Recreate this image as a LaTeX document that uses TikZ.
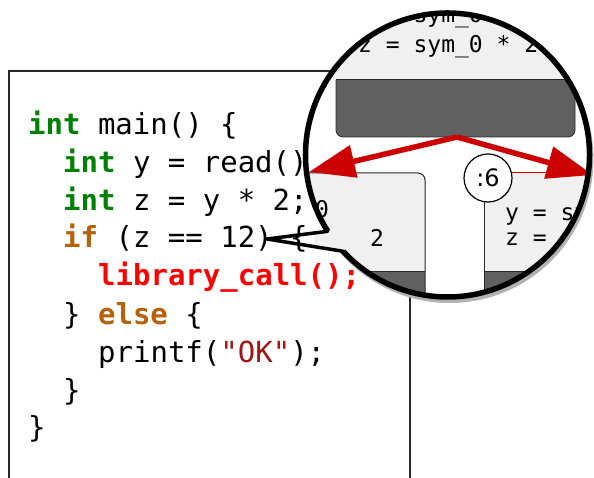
\documentclass[tikz,border=0pt]{standalone}
\usepackage{fontspec}
\newfontfamily\codefont{DejaVu Sans Mono}
\newfontfamily\labelfont{DejaVu Sans}
\usetikzlibrary{arrows.meta,calc}
\definecolor{kwgreen}{RGB}{0,128,0}
\definecolor{kwbrown}{RGB}{181,98,10}
\definecolor{callred}{RGB}{255,0,0}
\definecolor{strred}{RGB}{163,21,21}
\definecolor{boxgrey}{RGB}{240,240,240}
\definecolor{darkband}{RGB}{96,96,96}
\definecolor{arrred}{RGB}{204,0,0}
\definecolor{framecol}{RGB}{40,40,40}
\begin{document}
\begin{tikzpicture}[x=1pt,y=-1pt,
  codeline/.style={anchor=base west, inner sep=0pt, font=\codefont\fontsize{29}{29}\selectfont},
  zoomtext/.style={anchor=base west, inner sep=0pt, font=\codefont\fontsize{23}{23}\selectfont},
  zoomglyph/.style={inner sep=0pt, font=\codefont\fontsize{23}{23}\selectfont},
  bigarrow/.style={draw=arrred, line width=5.5pt, -{Triangle[length=46pt,width=32pt]}},
  thinedge/.style={draw=framecol, line width=1pt},
  lensring/.style={line width=5.5pt, draw=black},
]
\useasboundingbox (0,0) rectangle (594,478);
\fill[white] (0,0) rectangle (594,478);

% code frame
\draw[line width=1.6pt, framecol] (9,480) -- (9,71) -- (410,71) -- (410,480);

% code lines
\node[codeline] (l1) at (28,135) {\textcolor{kwgreen}{\bfseries int} main() \{};
\node[codeline] (l2) at (63,173) {\textcolor{kwgreen}{\bfseries int} y = read();};
\node[codeline] (l3) at (63,211) {\textcolor{kwgreen}{\bfseries int} z = y * 2;};
\node[codeline] (l4) at (63,248) {\textcolor{kwbrown}{\bfseries if} (z == 12) \{};
\node[codeline] (l5) at (98,286) {\textcolor{callred}{\bfseries library\_call();}};
\node[codeline] (l6) at (63,324) {\} \textcolor{kwbrown}{\bfseries else} \{};
\node[codeline] (l7) at (98,362) {printf(\textcolor{strred}{"OK"});};
\node[codeline] (l8) at (63,400) {\}};
\node[codeline] (l9) at (28,437) {\}};

% lens
\coordinate (C) at (447.5,155);
\coordinate (tip) at (267,239);
\coordinate (P1) at ($(C)+(147.5:142)$);
\coordinate (P2) at ($(C)+(137.3:142)$);

% shadow
\draw[line width=4pt, black!30] ($(C)+(2,4)$) circle (142);

\begin{scope}
  \clip (C) circle (142);
  \fill[white] (C) circle (142);
  % top block
  \fill[darkband, rounded corners=7pt] (336,60) rectangle (575,137);
  \draw[framecol, line width=0.8pt, rounded corners=7pt] (336,60) rectangle (575,137);
  \fill[boxgrey] (290,0) rectangle (594,80);
  \draw[framecol, line width=1pt] (336,80) -- (575,80);
  \node[zoomtext] (t1) at (358,23) {y = sym\_0};
  \node[zoomtext] (t2) at (358,53) {z = sym\_0 * 2};
  % left block
  \fill[boxgrey] (290,173) -- (418,173) arc[start angle=-90, end angle=0, radius=7] -- (425,310) -- (290,310) -- cycle;
  \fill[darkband] (290,272) rectangle (425,310);
  \draw[thinedge] (290,173) -- (418,173) arc[start angle=-90, end angle=0, radius=7] -- (425,310);
  \draw[thinedge] (290,272) -- (425,272);
  \node[zoomglyph] (g0) at (322,209) {0};
  \node[zoomglyph] (g2) at (377,238) {2};
  % right block
  \fill[boxgrey] (484,173) rectangle (594,310);
  \fill[darkband] (484,272) rectangle (594,310);
  \draw[thinedge] (484,173) -- (484,310);
  \draw[draw=arrred, line width=1pt] (484,173) -- (594,173);
  \draw[thinedge] (484,272) -- (594,272);
  \node[zoomtext] (r1) at (505,221) {y = sy};
  \node[zoomtext] (r2) at (505,246) {z =};
  % arrows
  \coordinate (split) at (457,137);
  \coordinate (lefttip) at (309,172);
  \coordinate (righttip) at (593,175);
  \draw[bigarrow] (split) -- (lefttip);
  \draw[bigarrow] (split) -- (righttip);
  \node[circle, draw=black, line width=1.2pt, fill=white, minimum size=48pt, inner sep=0pt,
        font=\labelfont\fontsize{24}{24}\selectfont] (n6) at (488,178) {:6};
\end{scope}

% callout pointer
\begin{scope}
  \clip (tip) -- (P1) -- (P2) -- cycle;
  \fill[boxgrey] (314,220) rectangle (360,260);
\end{scope}
\draw[lensring] (P1) arc[start angle=147.5, end angle=497.3, radius=142];
\draw[line width=3.5pt, line join=round, line cap=round] (P1) -- (tip) -- (P2);
\end{tikzpicture}
\end{document}
